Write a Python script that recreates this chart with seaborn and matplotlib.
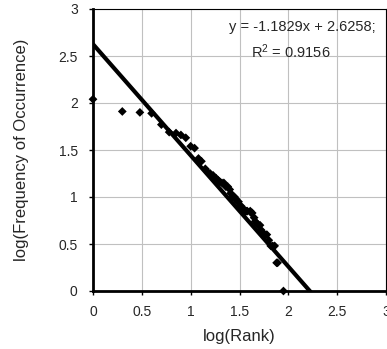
import numpy as np
import pandas as pd
import matplotlib
matplotlib.use("Agg")
import matplotlib.pyplot as plt
import seaborn as sns

# log(Rank) / log(Frequency of Occurrence)
log_rank = [0.00, 0.30, 0.48, 0.60, 0.70, 0.78, 0.85, 0.90, 0.95, 1.00,
            1.04, 1.08, 1.11, 1.15, 1.18, 1.20, 1.23, 1.26, 1.28, 1.30,
            1.32, 1.34, 1.36, 1.38, 1.40, 1.41, 1.43, 1.45, 1.46, 1.48,
            1.49, 1.51, 1.52, 1.53, 1.56, 1.57, 1.58, 1.61, 1.62, 1.63,
            1.65, 1.66, 1.68, 1.69, 1.71, 1.72, 1.74, 1.76, 1.78, 1.80,
            1.82, 1.84, 1.86, 1.88, 1.89, 1.95]
log_freq = [2.04, 1.91, 1.90, 1.89, 1.77, 1.69, 1.68, 1.66, 1.63, 1.54,
            1.52, 1.41, 1.38, 1.30, 1.26, 1.25, 1.23, 1.20, 1.18, 1.16,
            1.15, 1.15, 1.11, 1.11, 1.08, 1.04, 1.00, 1.00, 0.98, 0.95,
            0.95, 0.90, 0.90, 0.88, 0.85, 0.85, 0.85, 0.85, 0.83, 0.83,
            0.78, 0.74, 0.72, 0.70, 0.70, 0.65, 0.62, 0.60, 0.60, 0.54,
            0.48, 0.48, 0.48, 0.30, 0.30, 0.00]

# trendline as reported on the chart
slope = -1.1829
intercept = 2.6258
r2 = 0.9156

x_ticks = [0, 0.5, 1, 1.5, 2, 2.5, 3]
y_ticks = [0, 0.5, 1, 1.5, 2, 2.5, 3]

df = pd.DataFrame({"log_rank": log_rank, "log_freq": log_freq})
fit_x = np.array([0.0, 3.0])
fit = pd.DataFrame({"x": fit_x, "y": intercept + slope * fit_x})

sns.set_style("white")
plt.rcParams["font.family"] = ["Liberation Sans", "DejaVu Sans"]
plt.rcParams["mathtext.fontset"] = "custom"
plt.rcParams["mathtext.rm"] = "Liberation Sans"
plt.rcParams["mathtext.it"] = "Liberation Sans"

fig = plt.figure(figsize=(3.87, 3.49), dpi=100)
ax = fig.add_axes([93 / 387, 1 - 291 / 349, 293 / 387, 282 / 349])

sns.lineplot(data=fit, x="x", y="y", color="black", linewidth=3.0, ax=ax, zorder=3)
sns.scatterplot(data=df, x="log_rank", y="log_freq", marker="D", s=20,
                color="black", edgecolor="none", ax=ax, zorder=6, clip_on=False)

ax.set_xlim(0, 3)
ax.set_ylim(0, 3)
ax.set_xticks(x_ticks)
ax.set_yticks(y_ticks)
ax.set_xticklabels([f"{t:g}" for t in x_ticks])
ax.set_yticklabels([f"{t:g}" for t in y_ticks])
ax.grid(True, color="#c0c0c0", linewidth=0.8)
ax.set_axisbelow(True)

for side in ["left", "bottom"]:
    ax.spines[side].set_linewidth(2.0)
    ax.spines[side].set_color("black")
    ax.spines[side].set_zorder(5)
for side in ["top", "right"]:
    ax.spines[side].set_linewidth(0.8)
    ax.spines[side].set_color("black")

ax.tick_params(axis="both", direction="out", length=3, width=1, color="black",
               labelsize=10, bottom=True, left=True)
ax.tick_params(axis="x", pad=7)
ax.tick_params(axis="y", pad=8)
ax.set_xlabel("log(Rank)", fontsize=12, labelpad=7)
ax.set_ylabel("log(Frequency of Occurrence)", fontsize=12, labelpad=21)

ax.text(2.14, 2.81, f"y = {slope}x + {intercept};", fontsize=10.5,
        ha="center", va="center")
ax.text(2.03, 2.55, f"R$^2$ = {r2}", fontsize=10.5, ha="center", va="center")

fig.savefig("out.png", dpi=100)
